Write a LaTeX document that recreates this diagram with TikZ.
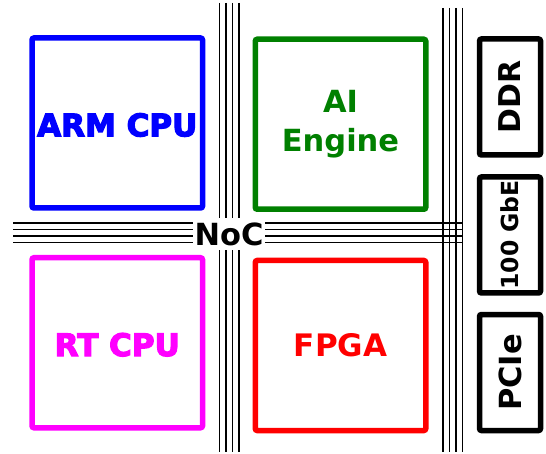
\documentclass[tikz,border=0pt]{standalone}
\usepackage{fontspec}
\setmainfont{DejaVu Sans}
\usepackage{tikz}
\usetikzlibrary{positioning}
\usepackage{xcolor}
\definecolor{armblue}{HTML}{0000FF}
\definecolor{aigreen}{HTML}{008000}
\definecolor{rtpink}{HTML}{FF00FF}
\definecolor{fpgared}{HTML}{FF0000}
% heavier label: fill and stroke the glyphs
\newcommand{\heavytext}[1]{\special{pdf:literal direct 2 Tr 1.2 w}#1\special{pdf:literal direct 0 Tr}}

\begin{document}
\begin{tikzpicture}[x=1pt, y=-1pt, font=\bfseries\fontsize{31}{39}\selectfont,
    block/.style={draw, line width=5.5pt, rounded corners=2pt, minimum width=170.5pt, minimum height=170pt, inner sep=0pt, align=center},
    port/.style={draw, line width=5.5pt, rounded corners=2pt, minimum width=116pt, minimum height=61pt, inner sep=0pt, rotate=90},
    bus/.style={line width=1.3pt}]
    \useasboundingbox (0,0) rectangle (546,454);
    % network on chip
    \foreach \d in {0,6.5,13,19.5} {
      \draw[bus] (219.5+\d,3) -- (219.5+\d,452);
      \draw[bus] (443+\d,8) -- (443+\d,452);
      \draw[bus] (13,223+\d) -- (462.5,223+\d);
    }
    \node[fill=white, inner xsep=1.5pt, inner ysep=4pt, font=\bfseries\fontsize{30.5}{36}\selectfont] (noc) at (229,234) {NoC};
    % compute blocks
    \node[block, armblue, text height=27pt] (arm) at (117.25,123) {\heavytext{ARM CPU}};
    \node[block, aigreen, font=\bfseries\fontsize{30.5}{39}\selectfont] (ai) at (340.5,124.25) {AI\\Engine};
    \node[block, rtpink, text height=27pt] (rt) at (117.25,342.75) {\heavytext{RT CPU}};
    \node[block, fpgared] (fpga) at (340.5,345.5) {FPGA};
    % interfaces
    \node[port, font=\bfseries\fontsize{30}{36}\selectfont] (ddr) at (510,97) {DDR};
    \node[port, font=\bfseries\fontsize{23.5}{28}\selectfont] (gbe) at (510,235) {100 GbE};
    \node[port, font=\bfseries\fontsize{30.5}{36}\selectfont] (pcie) at (510,372.5) {PCIe};
\end{tikzpicture}
\end{document}
